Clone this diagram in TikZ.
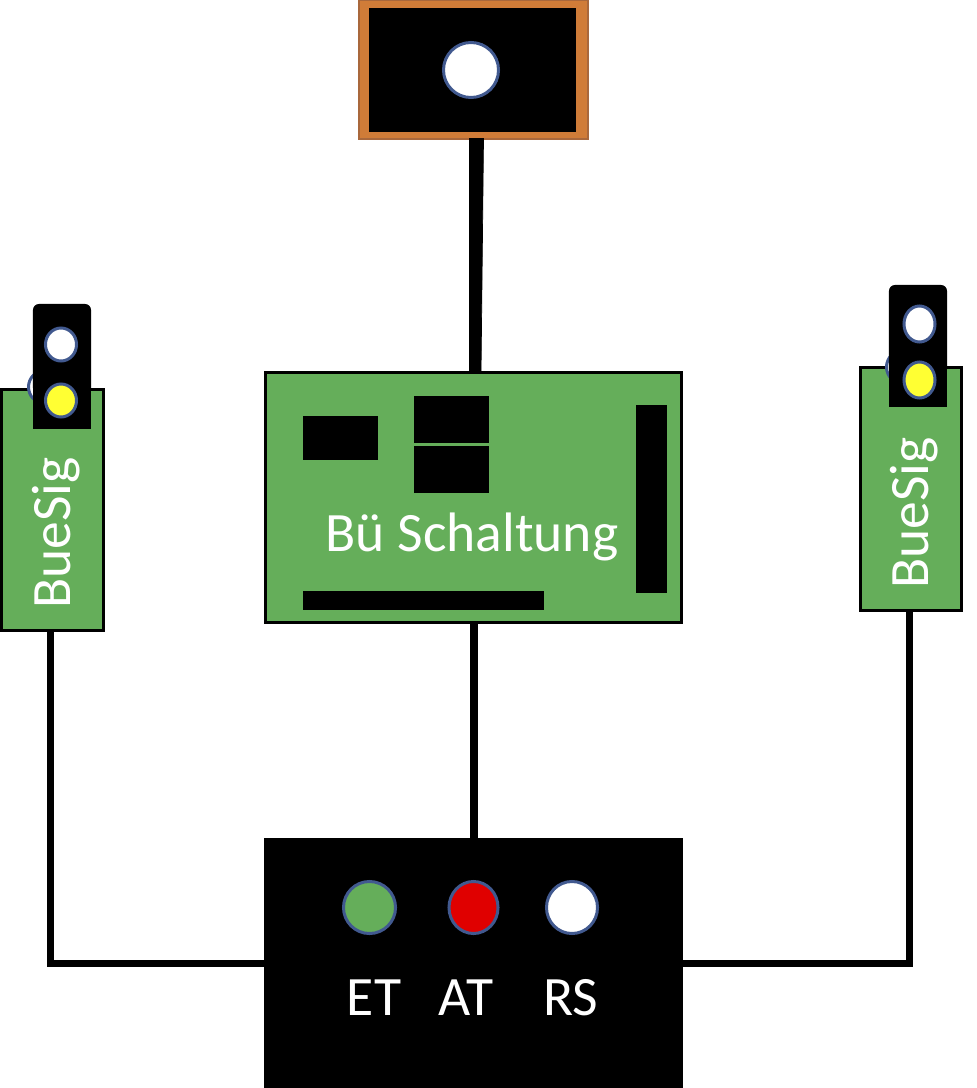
\documentclass[tikz,border=0pt]{standalone}
\usepackage{fontspec}
\setmainfont{Carlito}
\usetikzlibrary{shapes.geometric}
\definecolor{boardGreen}{HTML}{65AE5A}
\definecolor{frameOrange}{HTML}{D07C38}
\definecolor{frameEdge}{HTML}{A9683C}
\definecolor{lampEdge}{HTML}{41598F}
\definecolor{lampRed}{HTML}{E00000}
\definecolor{lampYellow}{HTML}{FFFF33}
\tikzset{
  every node/.style={outer sep=0pt},
  board/.style={draw=black,line width=0.03cm,fill=boardGreen,inner sep=0pt},
  chip/.style={fill=black,inner sep=0pt},
  lamp/.style={ellipse,draw=lampEdge,line width=0.03cm,inner sep=0pt},
  wire/.style={draw=black,line width=0.07cm},
  label/.style={text=white,font=\fontsize{15.8pt}{18pt}\selectfont,inner sep=0pt}
}
\begin{document}
\begin{tikzpicture}[x=0.01cm,y=-0.01cm]
    \useasboundingbox (0,0) rectangle (977,1088);

    % top lamp housing
    \node [draw=frameEdge,line width=0.02cm,fill=frameOrange,inner sep=0pt,minimum width=2.28cm,minimum height=1.38cm] (frame) at (473.5,69.5) {};
    \node [chip,minimum width=2.07cm,minimum height=1.24cm] (screen) at (472.5,70) {};
    \node [lamp,fill=white,minimum width=0.55cm,minimum height=0.55cm] (topLamp) at (471,70) {};

    % main board
    \node [board,minimum width=4.15cm,minimum height=2.49cm] (main) at (473.5,497.5) {};
    \node [chip,minimum width=0.75cm,minimum height=0.44cm] (chipA) at (340.5,438) {};
    \node [chip,minimum width=0.75cm,minimum height=0.47cm] (chipB) at (451.5,419.5) {};
    \node [chip,minimum width=0.75cm,minimum height=0.47cm] (chipC) at (451.5,469.5) {};
    \node [chip,minimum width=0.31cm,minimum height=1.88cm] (stripV) at (651.5,499) {};
    \node [chip,minimum width=2.41cm,minimum height=0.19cm] (stripH) at (423.5,600.5) {};
    \node [label] (mainText) at (472,537) {Bü Schaltung};

    % left signal
    \node [board,minimum width=1.01cm,minimum height=2.4cm] (sigL) at (52.5,510) {};
    \node [lamp,fill=white,minimum width=0.33cm,minimum height=0.33cm] (backL) at (45,387) {};
    \node [chip,rounded corners=0.06cm,minimum width=0.58cm,minimum height=0.9cm] (headLtop) at (62,349) {};
    \node [chip,minimum width=0.58cm,minimum height=0.6cm] (headL) at (62,399) {};
    \node [lamp,fill=white,minimum width=0.31cm,minimum height=0.33cm] (whiteL) at (61,344.5) {};
    \node [lamp,fill=lampYellow,minimum width=0.31cm,minimum height=0.33cm] (yellowL) at (61,400.5) {};
    \node [label,rotate=90] (textL) at (56,533) {BueSig};

    % right signal
    \node [board,minimum width=1.01cm,minimum height=2.42cm] (sigR) at (911,489) {};
    \node [lamp,fill=white,minimum width=0.33cm,minimum height=0.33cm] (backR) at (903,367) {};
    \node [chip,rounded corners=0.06cm,minimum width=0.58cm,minimum height=0.9cm] (headRtop) at (918,330) {};
    \node [chip,minimum width=0.58cm,minimum height=0.6cm] (headR) at (918,377) {};
    \node [lamp,fill=white,minimum width=0.31cm,minimum height=0.36cm] (whiteR) at (919.5,324) {};
    \node [lamp,fill=lampYellow,minimum width=0.31cm,minimum height=0.36cm] (yellowR) at (919.5,380) {};
    \node [label,rotate=90] (textR) at (914,513) {BueSig};

    % control panel
    \node [chip,minimum width=4.19cm,minimum height=2.5cm] (panel) at (473.5,963) {};
    \node [lamp,fill=boardGreen,minimum width=0.52cm,minimum height=0.52cm] (lampET) at (369.5,907.5) {};
    \node [lamp,fill=lampRed,minimum width=0.49cm,minimum height=0.52cm] (lampAT) at (473.5,907.5) {};
    \node [lamp,fill=white,minimum width=0.51cm,minimum height=0.52cm] (lampRS) at (572,907.5) {};
    \node [label] (textET) at (374,998) {ET};
    \node [label] (textAT) at (466,998) {AT};
    \node [label] (textRS) at (571,998) {RS};

    % connections
    \draw [draw=black,line width=0.2pt,fill=black] ([xshift=-0.04cm]frame.south) -- ([xshift=0.1cm]frame.south) -- ([xshift=0.075cm]main.north) -- ([xshift=-0.04cm]main.north) -- cycle;
    \draw [wire,line width=0.08cm] (main.south) -- (panel.north);
    \draw [wire] ([xshift=-0.02cm]sigL.south) |- (panel.west);
    \draw [wire] ([xshift=-0.015cm]sigR.south) |- (panel.east);
\end{tikzpicture}
\end{document}
